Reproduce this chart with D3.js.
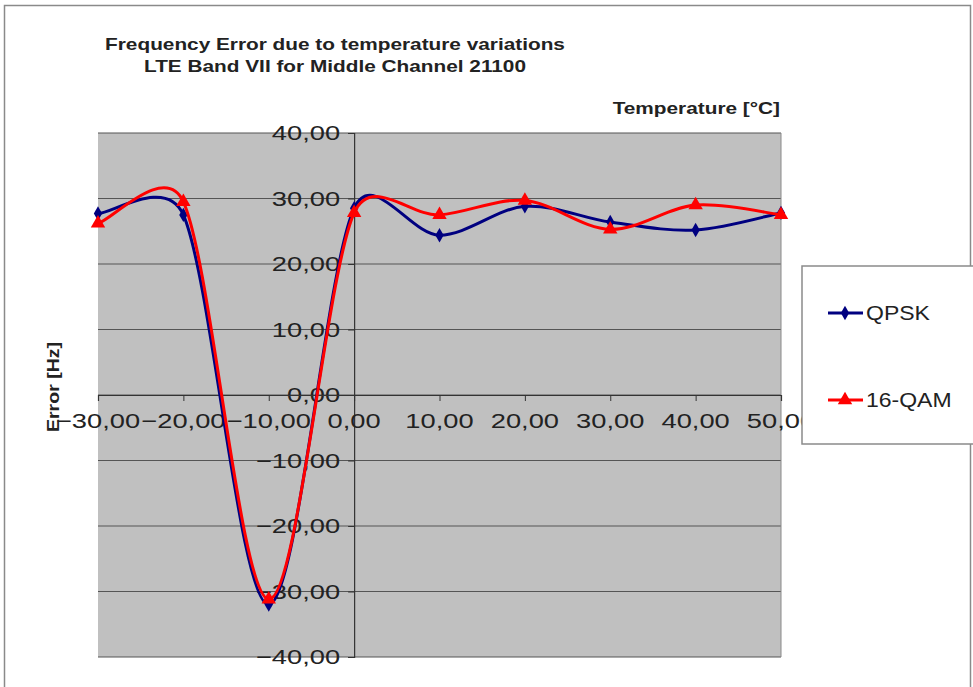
<!DOCTYPE html>
<html><head><meta charset="utf-8">
<script src="https://cdn.jsdelivr.net/npm/d3@7"></script>
<style>body{margin:0;background:#fff}svg{display:block}text{font-family:"Liberation Sans",Arial,sans-serif}</style>
</head><body>
<svg id="c" width="973" height="687"></svg>
<script>
const temps = [-30, -20, -10, 0, 10, 20, 30, 40, 50];
const qpsk = [27.7, 27.5, -32.0, 28.5, 24.4, 28.8, 26.4, 25.2, 27.8];
const qam16 = [26.2, 29.5, -31.2, 27.8, 27.5, 29.7, 25.3, 29.0, 27.5];
const yTicks = [-40, -30, -20, -10, 0, 10, 20, 30, 40];
const xTicks = [-30, -20, -10, 0, 10, 20, 30, 40, 50];
const seriesNames = ["QPSK", "16-QAM"];
const titleLines = ["Frequency Error due to temperature variations", "LTE Band VII for Middle Channel 21100"];

const svg = d3.select("#c");
const fmt = v => d3.format(".2f")(v).replace(".", ",");
const SX = 1.3; // horizontal stretch of the original picture

// Spreadsheet-style smoothed line as a d3 curve factory
function excelSmooth(context) {
  let pts = [];
  return {
    areaStart() {}, areaEnd() {},
    lineStart() { pts = []; },
    point(x, y) { pts.push([+x, +y]); },
    lineEnd() {
      const n = pts.length;
      if (!n) return;
      context.moveTo(pts[0][0], pts[0][1]);
      const dist = (a, b) => Math.hypot(a[0] - b[0], a[1] - b[1]);
      for (let i = 0; i < n - 1; i++) {
        const p0 = pts[Math.max(0, i - 1)], p1 = pts[i], p2 = pts[i + 1], p3 = pts[Math.min(n - 1, i + 2)];
        const d12 = dist(p1, p2), d02 = dist(p0, p2), d13 = dist(p1, p3);
        let f0 = 1 / 6, f1 = 1 / 6;
        if (d02 / 6 >= d12 / 2 && d02 > 0) f0 = d12 / (2 * d02);
        if (d13 / 6 >= d12 / 2 && d13 > 0) f1 = d12 / (2 * d13);
        const c1 = [p1[0] + (p2[0] - p0[0]) * f0, p1[1] + (p2[1] - p0[1]) * f0];
        const c2 = [p2[0] - (p3[0] - p1[0]) * f1, p2[1] - (p3[1] - p1[1]) * f1];
        context.bezierCurveTo(c1[0], c1[1], c2[0], c2[1], p2[0], p2[1]);
      }
    }
  };
}

// outer frame
svg.append("rect").attr("x", 4.5).attr("y", 5.5).attr("width", 966).attr("height", 700)
  .attr("fill", "#fff").attr("stroke", "#8a8a8a").attr("stroke-width", 1.5);

const L = 98, R = 781, T = 133, B = 657;
const x = d3.scaleLinear().domain([-30, 50]).range([L, R]);
const y = d3.scaleLinear().domain([-40, 40]).range([B, T]);

svg.append("rect").attr("x", L).attr("y", T).attr("width", R - L).attr("height", B - T).attr("fill", "#c0c0c0");

// gridlines
svg.append("g").selectAll("line").data(yTicks).join("line")
  .attr("x1", L).attr("x2", R).attr("y1", d => y(d)).attr("y2", d => y(d))
  .attr("stroke", "#555").attr("stroke-width", 1.2);
svg.append("line").attr("x1", R).attr("x2", R).attr("y1", T).attr("y2", B).attr("stroke", "#8a8a8a");

function stretchText(sel, sx) {
  sel.each(function () {
    const t = d3.select(this);
    const ax = +t.attr("data-x"), ay = +t.attr("data-y");
    t.attr("transform", `translate(${ax},${ay}) scale(${sx || SX},1)`);
  });
}

// y axis at x=0
const yAxisG = svg.append("g").attr("transform", `translate(${x(0)},0)`)
  .call(d3.axisLeft(y).tickValues(yTicks).tickSize(6).tickFormat(""));
yAxisG.select(".domain").attr("stroke", "#333").attr("stroke-width", 1.2);
yAxisG.selectAll(".tick line").attr("stroke", "#333");
svg.append("g").selectAll("text").data(yTicks).join("text")
  .attr("data-x", x(0) - 14).attr("data-y", d => y(d) + 7)
  .attr("text-anchor", "end").attr("font-size", 21).attr("fill", "#222")
  .text(fmt).call(stretchText);

// x axis at y=0
const xAxisG = svg.append("g").attr("transform", `translate(0,${y(0)})`)
  .call(d3.axisBottom(x).tickValues(xTicks).tickSize(6).tickFormat(""));
xAxisG.select(".domain").attr("stroke", "#333").attr("stroke-width", 1.2);
xAxisG.selectAll(".tick line").attr("stroke", "#333");
svg.append("g").selectAll("text").data(xTicks).join("text")
  .attr("data-x", d => x(d)).attr("data-y", y(0) + 33)
  .attr("text-anchor", "middle").attr("font-size", 21).attr("fill", "#222")
  .text(fmt).call(stretchText);

// series
const line = d3.line().curve(excelSmooth).x(d => x(d[0])).y(d => y(d[1]));
const series = [
  {name: seriesNames[0], vals: qpsk, color: "#000080", sym: d3.symbolDiamond, size: 60},
  {name: seriesNames[1], vals: qam16, color: "#ff0000", sym: d3.symbolTriangle, size: 90}
];
series.forEach(s => {
  const pts = temps.map((t, i) => [t, s.vals[i]]);
  svg.append("path").datum(pts).attr("d", line).attr("fill", "none")
    .attr("stroke", s.color).attr("stroke-width", 3);
  svg.append("g").selectAll("path").data(pts).join("path")
    .attr("transform", d => `translate(${x(d[0])},${y(d[1])})`)
    .attr("d", d3.symbol(s.sym, s.size)).attr("fill", s.color);
});

// title
svg.append("g").selectAll("text").data(titleLines).join("text")
  .attr("data-x", 335).attr("data-y", (d, i) => 50 + i * 22)
  .attr("text-anchor", "middle").attr("font-size", 16).attr("font-weight", "bold").attr("fill", "#222")
  .text(d => d).call(stretchText);

svg.append("text").attr("data-x", 780).attr("data-y", 114).attr("text-anchor", "end")
  .attr("font-size", 16).attr("font-weight", "bold").attr("fill", "#222").text("Temperature [°C]").call(stretchText);

svg.append("text").attr("transform", "translate(59,387) rotate(-90) scale(1.15,1)").attr("text-anchor", "middle")
  .attr("font-size", 17).attr("font-weight", "bold").attr("fill", "#222").text("Error [Hz]");

// legend
svg.append("rect").attr("x", 802).attr("y", 266).attr("width", 180).attr("height", 178)
  .attr("fill", "#fff").attr("stroke", "#8a8a8a").attr("stroke-width", 1.5);
series.forEach((s, i) => {
  const ly = [313, 400][i];
  svg.append("line").attr("x1", 828).attr("x2", 863).attr("y1", ly).attr("y2", ly)
    .attr("stroke", s.color).attr("stroke-width", 3);
  svg.append("path").attr("transform", `translate(845,${ly})`).attr("d", d3.symbol(s.sym, s.size)).attr("fill", s.color);
  svg.append("text").attr("data-x", 866).attr("data-y", ly + 7).attr("font-size", 20).attr("fill", "#222")
    .text(s.name).call(stretchText, 1.15);
});
</script>
</body></html>
